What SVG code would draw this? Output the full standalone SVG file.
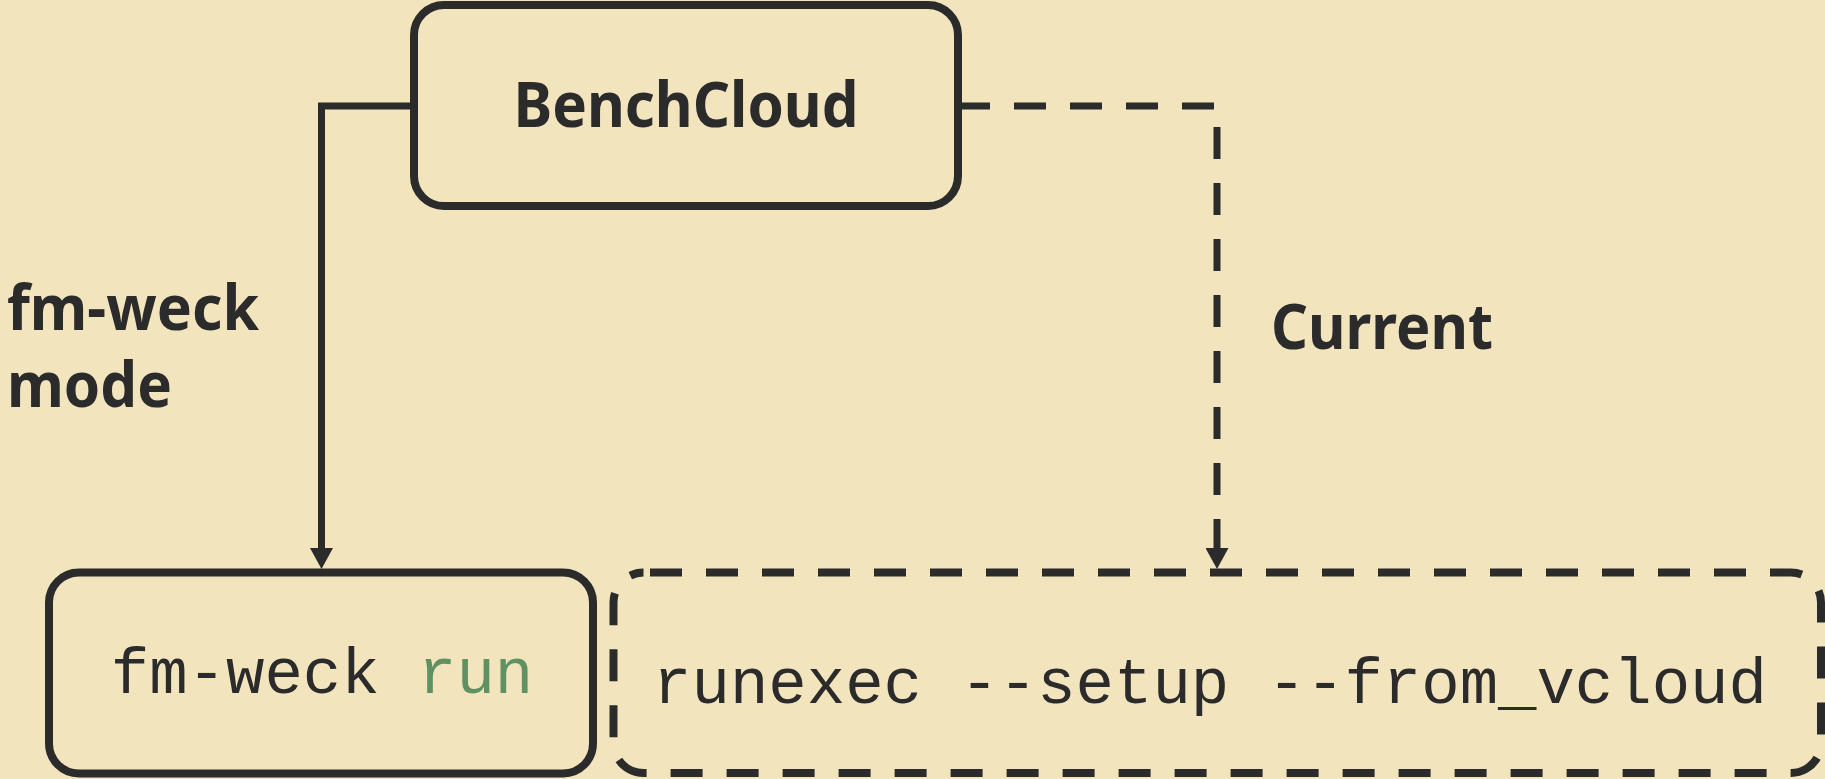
<svg xmlns="http://www.w3.org/2000/svg" width="1825" height="779" viewBox="0 0 1825 779">
  <style>
    .box { fill: none; stroke: #2b2b2b; stroke-width: 8; }
    .dashed { stroke-dasharray: 32 24; }
    .conn { fill: none; stroke: #2b2b2b; stroke-width: 7; }
    .label { font-family: "Noto Sans", "Open Sans", sans-serif; font-weight: bold; font-size: 62px; fill: #2b2b2b; }
    .mono { font-family: "Liberation Mono", "DejaVu Sans Mono", monospace; font-size: 64px; fill: #2b2b2b; }
    .green { fill: #5f9162; }
  </style>
  <defs>
    <marker id="arrow" markerUnits="userSpaceOnUse" markerWidth="21" markerHeight="23" refX="0" refY="11.5" orient="auto" viewBox="0 0 21 23">
      <path d="M0,0 L21,11.5 L0,23 Z" fill="#2b2b2b"/>
    </marker>
  </defs>
  <rect width="1825" height="779" fill="#f2e4bd"/>

  <g id="connectors">
    <path id="edge-fmweck" class="conn" d="M414,106 H321.5 V548" marker-end="url(#arrow)"/>
    <path id="edge-current" class="conn dashed" d="M958,106 H1217 V548" marker-end="url(#arrow)"/>
    <text class="label" x="7" y="330" textLength="252" lengthAdjust="spacingAndGlyphs">fm-weck</text>
    <text class="label" x="7" y="406.7" textLength="165" lengthAdjust="spacingAndGlyphs">mode</text>
    <text class="label" x="1271" y="349.3" textLength="222" lengthAdjust="spacingAndGlyphs">Current</text>
  </g>

  <g id="node-benchcloud">
    <rect class="box" x="414" y="5" width="544" height="201" rx="30" ry="30"/>
    <text class="label" x="686" y="127.3" text-anchor="middle" textLength="345" lengthAdjust="spacingAndGlyphs">BenchCloud</text>
  </g>

  <g id="node-fmweck-run">
    <rect class="box" x="49" y="572.5" width="544" height="201" rx="30" ry="30"/>
    <text class="mono" x="322" y="693.3" text-anchor="middle">fm-weck <tspan class="green">run</tspan></text>
  </g>

  <g id="node-runexec">
    <path class="box dashed" stroke-dashoffset="-6.5" d="M643.5,572.5 H1791 A30,30 0 0 1 1821,602.5 V743 A30,30 0 0 1 1791,773 H643.5 A30,30 0 0 1 613.5,743 V602.5 A30,30 0 0 1 643.5,572.5 Z"/>
    <text class="mono" x="1210" y="702.5" text-anchor="middle">runexec --setup --from_vcloud</text>
  </g>
</svg>
